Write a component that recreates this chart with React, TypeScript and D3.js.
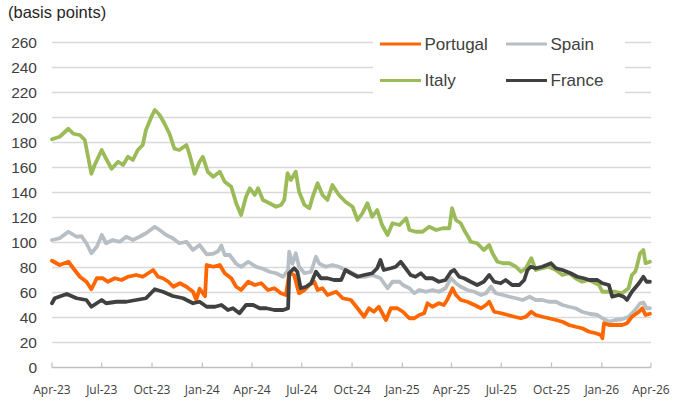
import React from "react";
import * as d3 from "d3";

type Pt = [string, number];

const seriesNames = ["Portugal", "Spain", "Italy", "France"];
const seriesColors = ["#FF6600", "#B7BFC4", "#9BBB59", "#404040"];

const portugal: Pt[] = [
  ["2023-04-01", 85.4], ["2023-04-15", 82], ["2023-05-01", 84.6], ["2023-05-10", 79.4], ["2023-05-22", 72.6],
  ["2023-06-03", 68.6], ["2023-06-12", 62.6], ["2023-06-22", 71.4], ["2023-07-03", 71.4], ["2023-07-12", 68.6],
  ["2023-07-25", 71.4], ["2023-08-06", 70], ["2023-08-18", 72.6], ["2023-09-02", 74], ["2023-09-14", 72.6],
  ["2023-09-24", 75.4], ["2023-10-03", 78], ["2023-10-12", 72.6], ["2023-10-21", 71.4], ["2023-10-31", 68.6],
  ["2023-11-09", 64.6], ["2023-11-21", 67.4], ["2023-12-03", 64.6], ["2023-12-15", 60.6], ["2023-12-21", 54],
  ["2023-12-27", 63], ["2024-01-06", 57], ["2024-01-09", 82], ["2024-01-21", 80.6], ["2024-02-02", 82],
  ["2024-02-11", 75.4], ["2024-02-23", 71.4], ["2024-03-03", 64.6], ["2024-03-12", 62], ["2024-03-25", 68.6],
  ["2024-04-06", 66], ["2024-04-18", 67.4], ["2024-04-30", 62], ["2024-05-12", 63.4], ["2024-05-24", 59.4],
  ["2024-06-02", 58], ["2024-06-08", 75.4], ["2024-06-17", 74], ["2024-06-26", 59.4], ["2024-07-06", 62],
  ["2024-07-15", 66], ["2024-07-24", 68.6], ["2024-07-30", 62], ["2024-08-08", 63.4], ["2024-08-17", 58],
  ["2024-09-02", 60.6], ["2024-09-14", 55.4], ["2024-09-29", 54], ["2024-10-11", 47.4], ["2024-10-23", 40.6],
  ["2024-11-01", 47.4], ["2024-11-10", 44.6], ["2024-11-19", 48.6], ["2024-12-02", 38], ["2024-12-11", 47.4],
  ["2024-12-23", 47.4], ["2025-01-02", 44.6], ["2025-01-14", 39.4], ["2025-01-23", 39.4], ["2025-02-01", 42],
  ["2025-02-10", 43.4], ["2025-02-16", 51.4], ["2025-02-25", 48.6], ["2025-03-09", 51.4], ["2025-03-18", 50],
  ["2025-03-24", 54], ["2025-03-31", 60.6], ["2025-04-03", 63.4], ["2025-04-09", 58], ["2025-04-18", 54],
  ["2025-04-30", 52.6], ["2025-05-13", 50], ["2025-05-25", 47.4], ["2025-06-03", 50], ["2025-06-09", 52.6],
  ["2025-06-18", 44.6], ["2025-07-01", 43.4], ["2025-07-13", 42], ["2025-07-25", 40.6], ["2025-08-06", 39.4],
  ["2025-08-15", 40.6], ["2025-08-25", 44.6], ["2025-09-02", 42], ["2025-09-14", 40.6], ["2025-09-26", 39.4],
  ["2025-10-09", 38], ["2025-10-21", 36.6], ["2025-11-02", 34], ["2025-11-14", 32.6], ["2025-11-26", 31.4],
  ["2025-12-09", 28.6], ["2025-12-21", 27.4], ["2025-12-30", 26], ["2026-01-02", 23.4], ["2026-01-05", 35.4],
  ["2026-01-14", 34], ["2026-01-26", 34], ["2026-02-07", 34], ["2026-02-16", 35.4], ["2026-02-25", 40.6],
  ["2026-03-10", 44.6], ["2026-03-16", 47.4], ["2026-03-22", 42], ["2026-03-30", 43],
];

const spain: Pt[] = [
  ["2023-04-01", 102], ["2023-04-15", 103.4], ["2023-05-01", 108.6], ["2023-05-16", 104.6], ["2023-05-25", 105],
  ["2023-06-03", 99.4], ["2023-06-12", 91.4], ["2023-06-22", 96.6], ["2023-07-01", 106], ["2023-07-09", 99.4],
  ["2023-07-21", 102], ["2023-08-03", 100.6], ["2023-08-15", 104.6], ["2023-08-27", 102], ["2023-09-08", 104.6],
  ["2023-09-20", 107.4], ["2023-10-06", 112.6], ["2023-10-15", 110], ["2023-10-27", 106], ["2023-11-08", 103.4],
  ["2023-11-20", 99.4], ["2023-12-03", 100.6], ["2023-12-15", 94], ["2023-12-27", 98], ["2024-01-09", 90.5],
  ["2024-01-21", 91], ["2024-01-30", 93], ["2024-02-05", 97.6], ["2024-02-11", 90], ["2024-02-20", 90],
  ["2024-03-03", 83], ["2024-03-12", 80.5], ["2024-03-25", 84.6], ["2024-04-09", 80.5], ["2024-04-21", 79],
  ["2024-05-03", 76.6], ["2024-05-15", 75.4], ["2024-05-28", 72.6], ["2024-06-06", 78], ["2024-06-08", 92.6],
  ["2024-06-14", 83], ["2024-06-20", 91.4], ["2024-06-26", 80.6], ["2024-07-06", 75.4], ["2024-07-18", 76.6],
  ["2024-07-27", 88.6], ["2024-08-02", 83], ["2024-08-14", 80.6], ["2024-08-26", 82], ["2024-09-07", 80.6],
  ["2024-09-19", 78], ["2024-10-02", 75.4], ["2024-10-14", 72.6], ["2024-10-26", 72.6], ["2024-11-07", 74],
  ["2024-11-22", 71.4], ["2024-12-05", 63.4], ["2024-12-14", 68.6], ["2024-12-27", 68.6], ["2025-01-02", 66],
  ["2025-01-14", 63.4], ["2025-01-23", 59.4], ["2025-02-01", 62], ["2025-02-13", 60.6], ["2025-02-25", 62],
  ["2025-03-09", 60.6], ["2025-03-21", 63.4], ["2025-03-31", 71.4], ["2025-04-09", 67.4], ["2025-04-18", 64.6],
  ["2025-04-30", 62], ["2025-05-13", 60.6], ["2025-05-25", 58], ["2025-06-03", 59.4], ["2025-06-12", 64.6],
  ["2025-06-21", 59.4], ["2025-07-04", 58], ["2025-07-16", 56.6], ["2025-07-28", 55.4], ["2025-08-09", 54],
  ["2025-08-22", 56.6], ["2025-09-02", 54], ["2025-09-14", 54], ["2025-09-26", 52.6], ["2025-10-09", 52.6],
  ["2025-10-21", 50], ["2025-11-02", 48.6], ["2025-11-14", 47.4], ["2025-11-26", 44.6], ["2025-12-09", 43],
  ["2025-12-24", 42], ["2026-01-02", 39.4], ["2026-01-14", 36.6], ["2026-01-26", 38], ["2026-02-07", 38.6],
  ["2026-02-19", 40.6], ["2026-03-03", 46], ["2026-03-12", 51.4], ["2026-03-18", 52], ["2026-03-24", 47.4],
  ["2026-03-30", 47.4],
];

const italy: Pt[] = [
  ["2023-04-01", 182.6], ["2023-04-15", 184.6], ["2023-05-01", 191], ["2023-05-10", 187], ["2023-05-22", 186],
  ["2023-05-31", 182], ["2023-06-06", 168.6], ["2023-06-12", 155], ["2023-06-18", 162], ["2023-07-01", 174],
  ["2023-07-07", 168.6], ["2023-07-19", 159], ["2023-07-31", 164.6], ["2023-08-09", 162], ["2023-08-18", 168.6],
  ["2023-08-27", 166], ["2023-09-05", 174], ["2023-09-14", 178], ["2023-09-20", 190], ["2023-09-30", 200.6],
  ["2023-10-06", 206], ["2023-10-15", 202], ["2023-10-24", 195], ["2023-11-02", 187], ["2023-11-11", 175],
  ["2023-11-20", 174], ["2023-12-03", 178], ["2023-12-09", 170], ["2023-12-18", 155], ["2023-12-27", 164.6],
  ["2024-01-02", 168.6], ["2024-01-11", 156.6], ["2024-01-21", 152.6], ["2024-02-02", 156.6], ["2024-02-11", 148.6],
  ["2024-02-23", 144.6], ["2024-03-03", 131.4], ["2024-03-12", 122], ["2024-03-21", 136.6], ["2024-03-28", 143.4],
  ["2024-04-06", 138], ["2024-04-12", 143.4], ["2024-04-21", 134], ["2024-05-03", 131.4], ["2024-05-15", 128.6],
  ["2024-05-24", 130], ["2024-05-30", 134], ["2024-06-05", 155.4], ["2024-06-11", 150], ["2024-06-20", 156.6],
  ["2024-06-26", 140.6], ["2024-07-06", 130], ["2024-07-15", 127.4], ["2024-07-21", 136.6], ["2024-07-30", 147.4],
  ["2024-08-08", 138], ["2024-08-17", 134], ["2024-08-26", 146], ["2024-09-07", 138], ["2024-09-19", 132.6],
  ["2024-10-02", 128.6], ["2024-10-11", 118], ["2024-10-20", 123.4], ["2024-10-29", 131.4], ["2024-11-07", 120.6],
  ["2024-11-16", 126], ["2024-11-25", 114], ["2024-12-05", 106], ["2024-12-14", 115.4], ["2024-12-27", 114],
  ["2025-01-08", 119.4], ["2025-01-14", 110], ["2025-01-26", 108.6], ["2025-02-07", 108.6], ["2025-02-19", 112.6],
  ["2025-03-04", 110], ["2025-03-16", 111.4], ["2025-03-28", 111.4], ["2025-04-02", 127.4], ["2025-04-09", 118],
  ["2025-04-18", 115.4], ["2025-04-24", 110], ["2025-05-03", 103.4], ["2025-05-06", 100.6], ["2025-05-18", 99.4],
  ["2025-05-30", 94], ["2025-06-09", 98], ["2025-06-15", 91.4], ["2025-06-24", 84.6], ["2025-07-04", 83.4],
  ["2025-07-16", 83.4], ["2025-07-28", 80.6], ["2025-08-06", 76.6], ["2025-08-15", 79.4], ["2025-08-25", 87.4],
  ["2025-09-02", 78], ["2025-09-14", 79.4], ["2025-09-26", 80.6], ["2025-10-09", 78], ["2025-10-21", 74],
  ["2025-11-02", 75.4], ["2025-11-14", 71.4], ["2025-11-26", 68.6], ["2025-12-09", 70], ["2025-12-27", 66],
  ["2026-01-02", 60.6], ["2026-01-14", 60.6], ["2026-01-26", 60.6], ["2026-02-07", 59.4], ["2026-02-19", 63.4],
  ["2026-02-25", 74], ["2026-03-03", 76.6], ["2026-03-06", 80.6], ["2026-03-12", 91.4], ["2026-03-18", 94],
  ["2026-03-22", 83.4], ["2026-03-30", 84.6],
];

const france: Pt[] = [
  ["2023-04-01", 51.4], ["2023-04-06", 55.4], ["2023-04-28", 58.8], ["2023-05-16", 55.4], ["2023-06-03", 54],
  ["2023-06-12", 48.6], ["2023-07-01", 54], ["2023-07-09", 51.4], ["2023-07-28", 52.6], ["2023-08-15", 52.6],
  ["2023-09-02", 54], ["2023-09-20", 55.4], ["2023-10-06", 62.6], ["2023-10-21", 60.6], ["2023-11-08", 57.2],
  ["2023-11-27", 55.4], ["2023-12-15", 51.4], ["2023-12-27", 52.6], ["2024-01-09", 48.6], ["2024-01-24", 48.6],
  ["2024-02-05", 50], ["2024-02-17", 46], ["2024-02-26", 47.4], ["2024-03-09", 43.4], ["2024-03-21", 50],
  ["2024-04-03", 50], ["2024-04-15", 47.4], ["2024-04-27", 47.4], ["2024-05-12", 46], ["2024-05-28", 46],
  ["2024-06-06", 47.4], ["2024-06-08", 75.4], ["2024-06-17", 79.4], ["2024-06-23", 76.6], ["2024-06-29", 63.4],
  ["2024-07-09", 64.6], ["2024-07-18", 67.4], ["2024-07-27", 76.6], ["2024-08-05", 71.4], ["2024-08-17", 71.4],
  ["2024-08-29", 70], ["2024-09-11", 70], ["2024-09-19", 78], ["2024-09-29", 75.4], ["2024-10-11", 72.6],
  ["2024-10-23", 74], ["2024-11-07", 75.4], ["2024-11-16", 79.4], ["2024-11-22", 86], ["2024-11-28", 78],
  ["2024-12-11", 79.4], ["2024-12-20", 80.6], ["2024-12-29", 84.6], ["2025-01-07", 79.4], ["2025-01-16", 74],
  ["2025-01-25", 72.6], ["2025-02-04", 75.4], ["2025-02-13", 71.4], ["2025-02-25", 71.4], ["2025-03-09", 68.6],
  ["2025-03-21", 70], ["2025-03-31", 76.6], ["2025-04-06", 78], ["2025-04-15", 72.6], ["2025-04-24", 71.4],
  ["2025-05-06", 68.6], ["2025-05-18", 66], ["2025-05-30", 68.6], ["2025-06-09", 74], ["2025-06-18", 68.6],
  ["2025-06-30", 67.4], ["2025-07-09", 70], ["2025-07-21", 66], ["2025-08-03", 66], ["2025-08-12", 70],
  ["2025-08-18", 78], ["2025-08-24", 80.6], ["2025-09-02", 79.4], ["2025-09-14", 80.6], ["2025-09-30", 83.4],
  ["2025-10-09", 79.4], ["2025-10-21", 78], ["2025-11-05", 75.4], ["2025-11-17", 72.6], ["2025-11-29", 71.4],
  ["2025-12-09", 70], ["2025-12-24", 70], ["2026-01-02", 67.4], ["2026-01-14", 66], ["2026-01-20", 56.6],
  ["2026-02-01", 58], ["2026-02-10", 56.6], ["2026-02-16", 54], ["2026-02-25", 60.6], ["2026-03-10", 67.4],
  ["2026-03-18", 72.6], ["2026-03-24", 68.6], ["2026-03-30", 68.6],
];

const yTicks = [0, 20, 40, 60, 80, 100, 120, 140, 160, 180, 200, 220, 240, 260];
const xStart = "2023-04-01";
const xEnd = "2026-04-01";
const yTitle = "(basis points)";

const W = 686;
const H = 403;
const plot = { left: 52, right: 651, top: 42.5, bottom: 367.5 };

export default function App() {
  const parse = d3.timeParse("%Y-%m-%d");
  const x = d3.scaleTime().domain([parse(xStart)!, parse(xEnd)!]).range([plot.left, plot.right]);
  const y = d3.scaleLinear().domain([0, 260]).range([plot.bottom, plot.top]);
  const xTicks = d3.timeMonth.every(3)!.range(parse(xStart)!, d3.timeDay.offset(parse(xEnd)!, 1));
  const fmt = d3.timeFormat("%b-%y");
  const line = d3
    .line<Pt>()
    .x((d) => x(parse(d[0])!))
    .y((d) => y(d[1]));
  const data = [portugal, spain, italy, france];
  const order = [2, 1, 0, 3];

  const legendItems = [
    { i: 0, lx: 380, ly: 44 },
    { i: 1, lx: 506, ly: 44 },
    { i: 2, lx: 380, ly: 80.5 },
    { i: 3, lx: 506, ly: 80.5 },
  ];

  return (
    <svg
      width={W}
      height={H}
      style={{ position: "absolute", left: 0, top: 0, background: "#fff" }}
      fontFamily="'Liberation Sans', Arial, sans-serif"
    >
      <rect x={0} y={0} width={W} height={H} fill="#fff" />
      <text x={8} y={18} fontSize={16.5} fill="#262626">
        {yTitle}
      </text>
      {yTicks.map((t) =>
        t === 0 ? null : (
          <line key={"g" + t} x1={plot.left} x2={plot.right} y1={y(t)} y2={y(t)} stroke="#d9d9d9" strokeWidth={1.3} />
        )
      )}
      {yTicks.map((t) => (
        <text
          key={"yl" + t}
          x={37}
          y={y(t)}
          dy="0.35em"
          textAnchor="end"
          fontSize={15.5}
          fill="#404040"
        >
          {t}
        </text>
      ))}
      <line x1={plot.left} x2={plot.right} y1={plot.bottom} y2={plot.bottom} stroke="#bfbfbf" strokeWidth={1.3} />
      {xTicks.map((d, i) => (
        <g key={"xt" + i}>
          <line x1={x(d)} x2={x(d)} y1={plot.bottom - 5} y2={plot.bottom} stroke="#bfbfbf" strokeWidth={1.2} />
          <text
            x={x(d)}
            y={394}
            textAnchor="middle"
            fontSize={12}
            fontFamily="'Open Sans', sans-serif"
            fill="#404040"
          >
            {fmt(d)}
          </text>
        </g>
      ))}
      {order.map((i) => (
        <path
          key={"s" + i}
          d={line(data[i]) || ""}
          fill="none"
          stroke={seriesColors[i]}
          strokeWidth={3.8}
          strokeLinejoin="round"
          strokeLinecap="round"
        />
      ))}
      <rect x={373} y={31} width={252} height={64} fill="#fff" />
      {legendItems.map(({ i, lx, ly }) => (
        <g key={"lg" + i}>
          <line x1={lx} x2={lx + 41} y1={ly} y2={ly} stroke={seriesColors[i]} strokeWidth={3} />
          <text x={lx + 44.5} y={ly} dy="0.35em" fontSize={17} fill="#404040">
            {seriesNames[i]}
          </text>
        </g>
      ))}
    </svg>
  );
}
